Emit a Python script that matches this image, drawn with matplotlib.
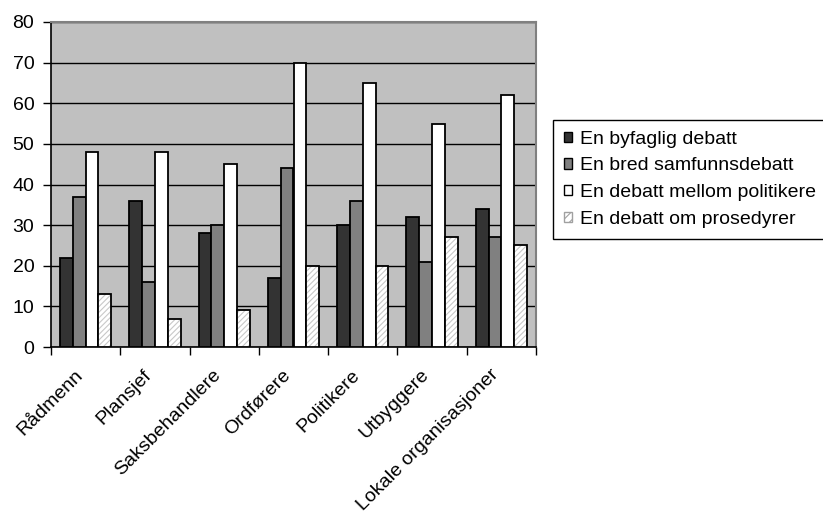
import matplotlib.pyplot as plt
import numpy as np
from matplotlib.patches import Patch

categories = ['Rådmenn', 'Plansjef', 'Saksbehandlere', 'Ordførere',
              'Politikere', 'Utbyggere', 'Lokale organisasjoner']
series_names = ['En byfaglig debatt', 'En bred samfunnsdebatt',
                'En debatt mellom politikere', 'En debatt om prosedyrer']
byfaglig = [22, 36, 28, 17, 30, 32, 34]
samfunn = [37, 16, 30, 44, 36, 21, 27]
politikere = [48, 48, 45, 70, 65, 55, 62]
prosedyrer = [13, 7, 9, 20, 20, 27, 25]
y_ticks = [0, 10, 20, 30, 40, 50, 60, 70, 80]


def main():
    plt.rcParams['font.family'] = ['Liberation Sans', 'DejaVu Sans']
    plt.rcParams['hatch.linewidth'] = 0.8

    fig = plt.figure(figsize=(8.23, 5.13), dpi=100)
    ax = fig.add_axes((51 / 823, 166 / 513, 485 / 823, 325 / 513))
    ax.set_facecolor('#c0c0c0')

    x = np.arange(len(categories))
    w = 0.185
    offsets = (np.arange(4) - 1.5) * w
    data = [byfaglig, samfunn, politikere, prosedyrer]
    faces = ['#333333', '#808080', '#ffffff', '#ffffff']

    for i in range(4):
        if i == 3:
            # hatch drawn in light grey, outline drawn separately in black
            ax.bar(x + offsets[i], data[i], w, color='#ffffff',
                   edgecolor='#c8c8c8', hatch='//////', linewidth=0,
                   zorder=3)
            ax.bar(x + offsets[i], data[i], w, fill=False,
                   edgecolor='black', linewidth=1.3, zorder=4)
        else:
            ax.bar(x + offsets[i], data[i], w, color=faces[i],
                   edgecolor='black', linewidth=1.3, zorder=3)

    ax.set_xlim(-0.5, len(categories) - 0.5)
    ax.set_ylim(0, 80)
    ax.set_yticks(y_ticks)
    ax.yaxis.grid(True, color='black', linewidth=1.0, zorder=1)
    ax.set_axisbelow(True)

    # labels sit a little left of the group centre, Excel style
    ax.set_xticks(x - 0.17)
    ax.set_xticklabels(categories, rotation=45, ha='right',
                       rotation_mode='anchor', fontsize=14)
    ax.tick_params(axis='x', length=0, pad=14)
    ax.set_xticks(np.arange(len(categories) + 1) - 0.5, minor=True)
    ax.tick_params(axis='x', which='minor', length=6, direction='out',
                   width=1, color='black')
    ax.tick_params(axis='y', length=6, direction='out', width=1,
                   labelsize=14, pad=6)

    for side in ('top', 'right'):
        ax.spines[side].set_color('#808080')
        ax.spines[side].set_linewidth(1.5)
    for side in ('left', 'bottom'):
        ax.spines[side].set_color('black')
        ax.spines[side].set_linewidth(1.2)

    handles = [Patch(facecolor=faces[0], edgecolor='black'),
               Patch(facecolor=faces[1], edgecolor='black'),
               Patch(facecolor=faces[2], edgecolor='black'),
               Patch(facecolor='#ffffff', edgecolor='#a0a0a0',
                     hatch='////')]
    leg = fig.legend(handles, series_names, loc='upper left',
                     bbox_to_anchor=(553 / 823, 1 - 120 / 513),
                     borderaxespad=0, fancybox=False, fontsize=14,
                     handlelength=0.45, handleheight=0.45,
                     handletextpad=0.4, labelspacing=0.5, borderpad=0.55,
                     framealpha=1)
    leg.get_frame().set_edgecolor('black')
    leg.get_frame().set_linewidth(1.0)

    fig.savefig('out.png', dpi=100)


if __name__ == '__main__':
    main()
